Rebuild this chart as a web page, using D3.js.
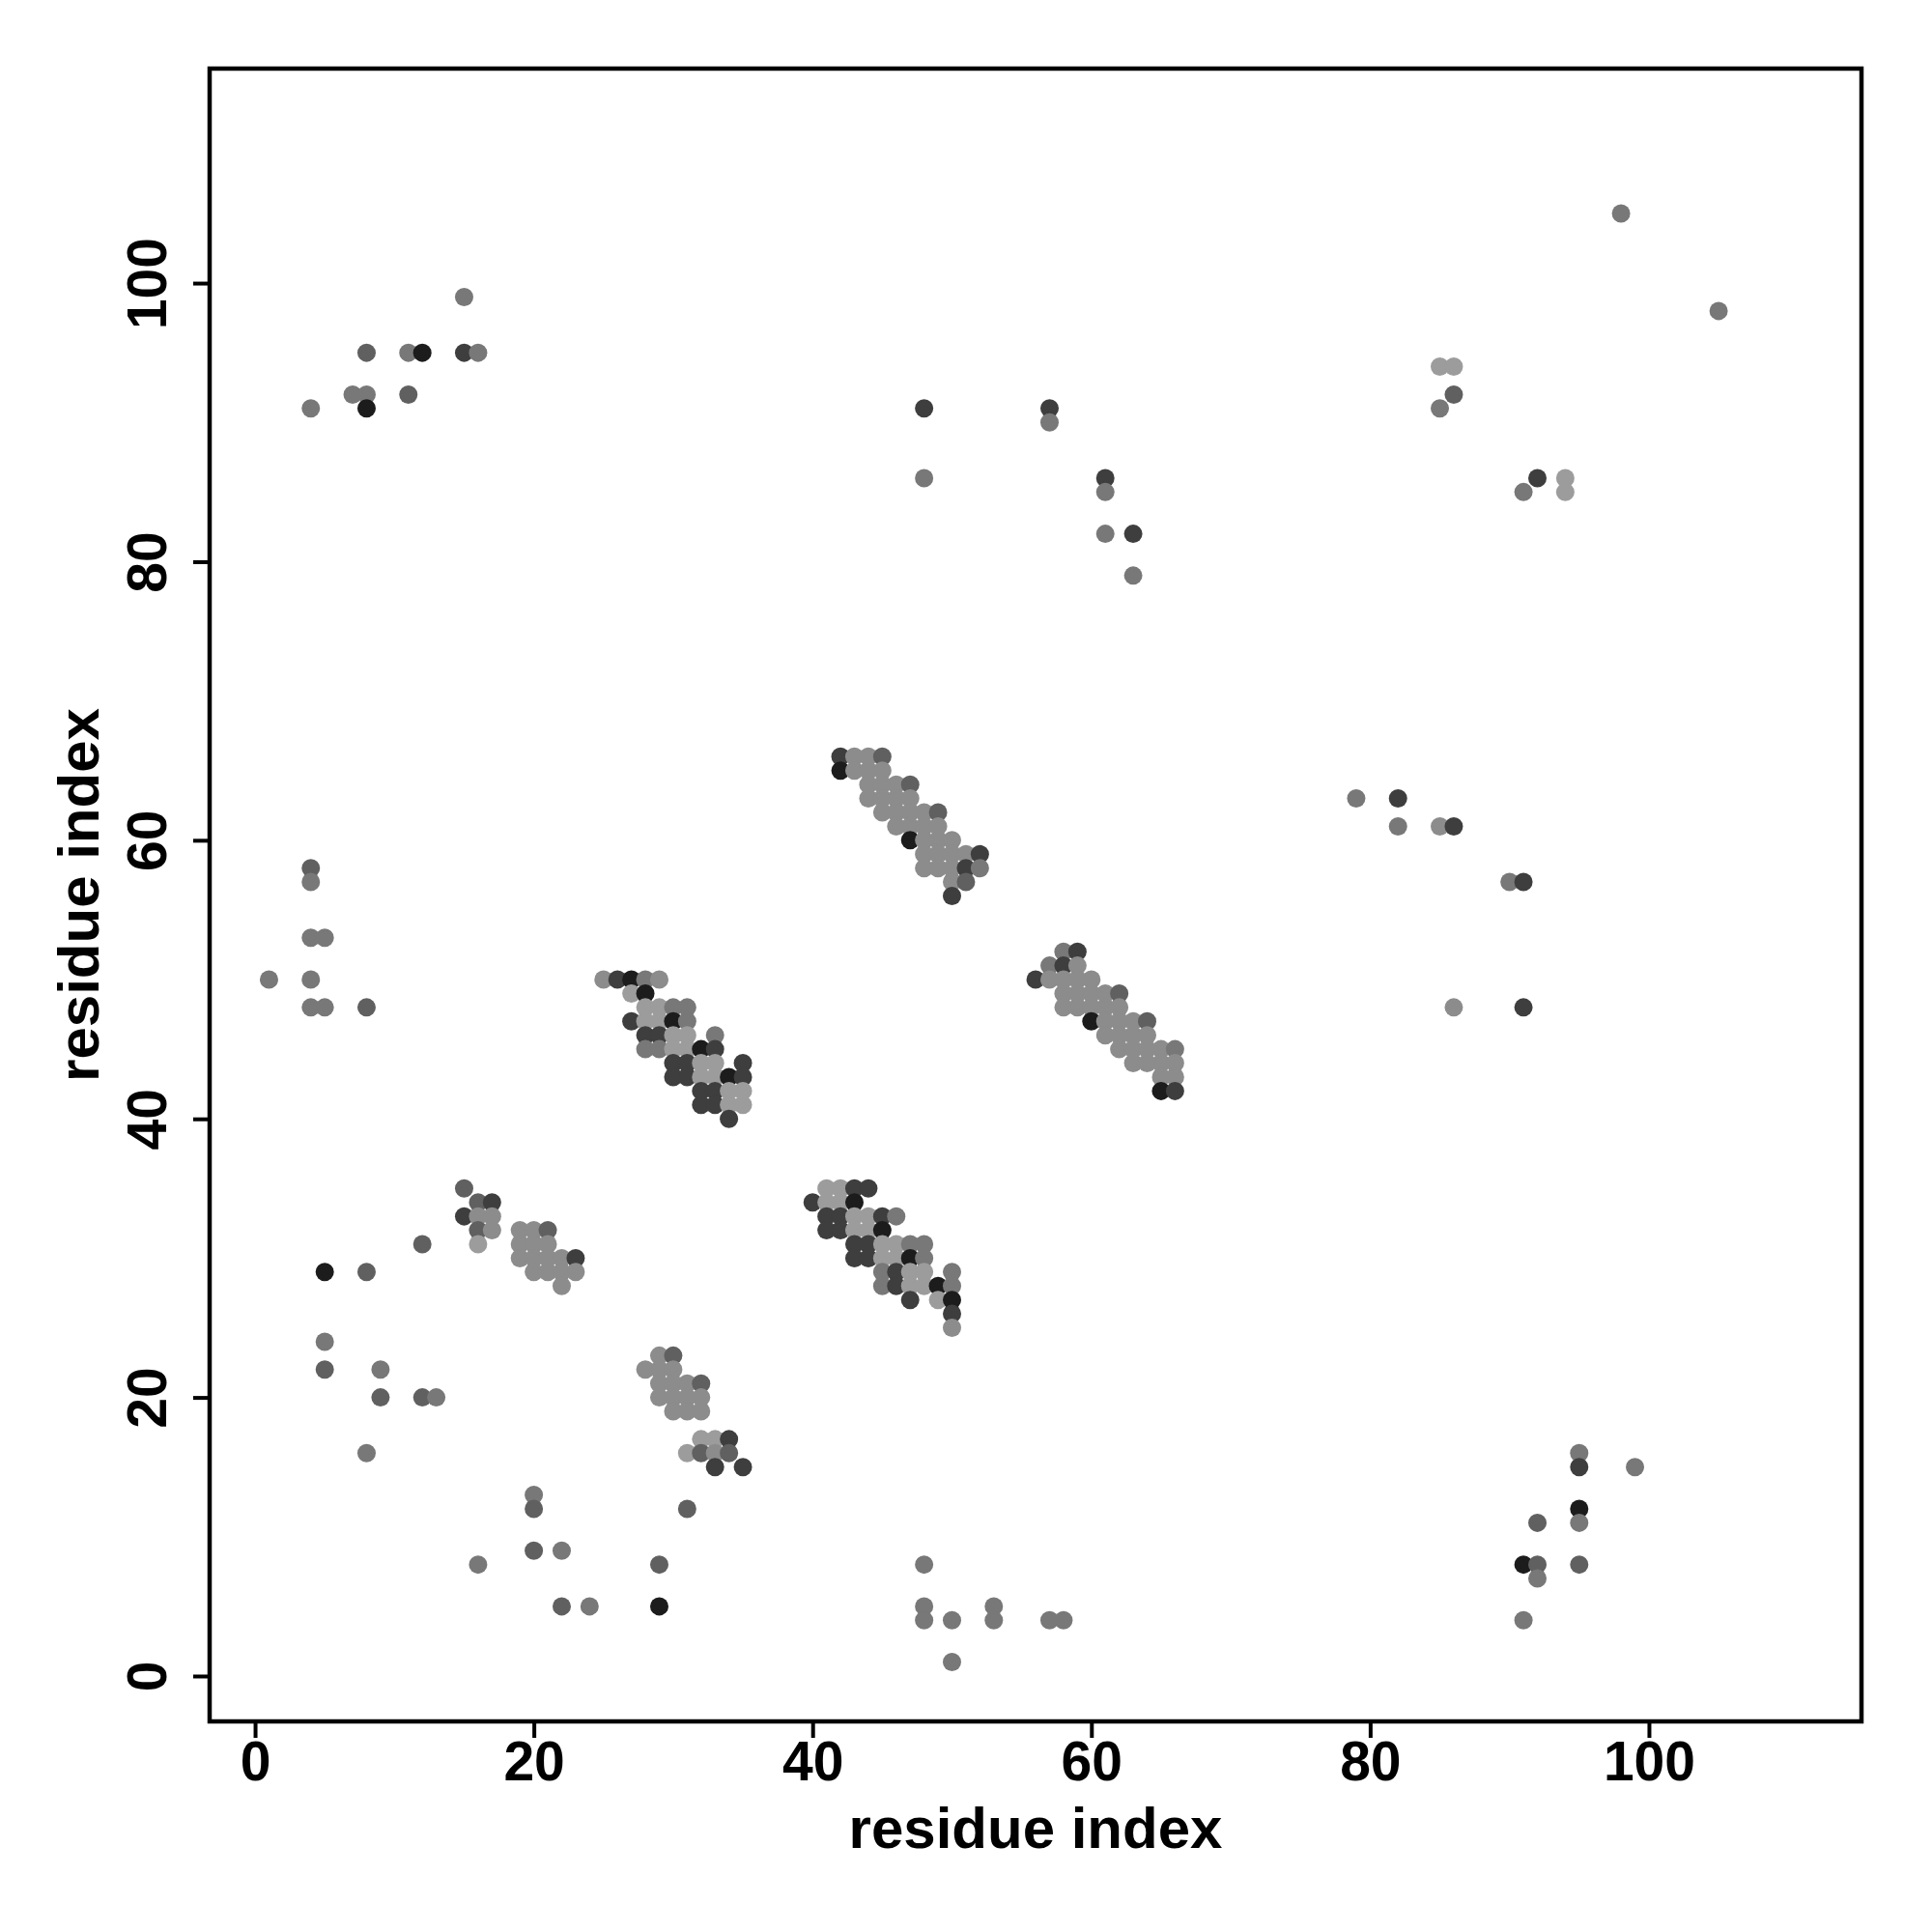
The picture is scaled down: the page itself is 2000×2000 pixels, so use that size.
<!DOCTYPE html>
<html>
<head>
<meta charset="utf-8">
<script src="https://cdn.jsdelivr.net/npm/d3@7"></script>
<style>
  html, body { margin: 0; padding: 0; background: #ffffff; }
  svg { display: block; }
</style>
</head>
<body>
<div id="chart"></div>
<script>
// ---------------- DATA ----------------
const xTicks = [0, 20, 40, 60, 80, 100];
const yTicks = [0, 20, 40, 60, 80, 100];
const xTitle = "residue index";
const yTitle = "residue index";

const shadeNames  = ["black", "dark", "midDark", "mid", "light", "lighter"];
const shadeColors = ["#1c1c1c", "#3e3e3e", "#606060", "#787878", "#8c8c8c", "#9c9c9c"];

const blackPts = [[12,95],[8,91],[42,65],[47,60],[27,50],[28,49],[30,47],[32,45],[34,43],[60,47],[65,42],
  [43,34],[45,32],[47,30],[49,28],[50,27],[5,29],[29,5],[95,12],[91,8]];

const darkPts = [[15,95],[42,66],[52,59],[51,58],[50,56],[26,50],[27,47],[28,46],[29,46],[33,45],[30,44],[31,44],
  [35,44],[30,43],[31,43],[35,43],[32,42],[33,42],[32,41],[33,41],[34,40],[59,52],[58,51],[56,50],[66,42],
  [43,35],[44,35],[40,34],[41,33],[42,33],[45,33],[41,32],[42,32],[43,31],[44,31],[43,30],[44,30],[46,29],
  [46,28],[47,27],[50,26],[17,34],[15,33],[23,30],[34,17],[33,15],[35,15],[48,91],[57,91],[61,86],[63,82],
  [92,86],[82,63],[86,61],[91,57],[91,48],[95,15]];

const midDarkPts = [[8,95],[11,92],[4,58],[8,48],[45,66],[47,64],[49,62],[51,57],[62,49],[64,47],[15,35],[16,34],
  [16,32],[21,32],[30,23],[32,21],[32,16],[34,16],[31,12],[12,31],[8,29],[5,22],[9,20],[12,20],[20,12],[20,9],
  [29,8],[22,5],[86,92],[92,11],[92,8],[95,8]];

const midPts = [[15,99],[11,95],[16,95],[7,92],[8,92],[4,91],[4,57],[4,53],[5,53],[1,50],[4,50],[4,48],[5,48],
  [52,58],[28,50],[30,48],[31,48],[31,47],[28,45],[29,45],[33,46],[58,52],[57,51],[66,45],[46,33],[47,31],
  [48,31],[48,30],[45,29],[50,29],[45,28],[50,28],[5,24],[9,22],[13,20],[8,16],[20,13],[22,9],[16,8],[24,5],
  [57,90],[48,86],[61,85],[61,82],[63,79],[98,105],[105,98],[85,91],[91,85],[79,63],[82,61],[90,57],[95,16],
  [99,15],[95,11],[92,7],[91,4],[48,8],[48,5],[48,4],[50,4],[50,1],[53,5],[53,4],[57,4],[58,4]];

const lightPts = [
  [43,66],[44,66],[43,65],[44,65],[45,65],[44,64],[45,64],[46,64],[44,63],[45,63],[46,63],[47,63],[45,62],
  [46,62],[47,62],[48,62],[46,61],[47,61],[48,61],[49,61],[48,60],[49,60],[50,60],[48,59],[49,59],[50,59],
  [51,59],[48,58],[49,58],[50,58],[50,57],
  [59,51],[57,50],[58,50],[59,50],[60,50],[58,49],[59,49],[60,49],[61,49],[58,48],[59,48],[60,48],[61,48],
  [62,48],[61,47],[62,47],[63,47],[61,46],[62,46],[63,46],[64,46],[62,45],[63,45],[64,45],[65,45],[63,44],
  [64,44],[65,44],[66,44],[65,43],[66,43],
  [16,33],[17,33],[17,32],[19,32],[20,32],[19,31],[20,31],[21,31],[19,30],[20,30],[21,30],[22,30],[20,29],
  [21,29],[22,29],[23,29],[22,28],
  [29,23],[28,22],[29,22],[30,22],[29,21],[30,21],[31,21],[29,20],[30,20],[31,20],[32,20],[30,19],[31,19],
  [32,19],[33,16],
  [85,61],[86,48],[25,50],[29,50],[50,25]];

const lighterPts = [
  [28,48],[29,48],[28,47],[29,47],[30,46],[31,46],[30,45],[31,45],[32,44],[33,44],[32,43],[33,43],[34,42],
  [35,42],[34,41],[35,41],
  [41,35],[42,35],[41,34],[42,34],[43,33],[44,33],[43,32],[44,32],[45,31],[46,31],[45,30],[46,30],[47,29],
  [48,29],[47,28],[48,28],[49,27],
  [27,49],[16,31],[32,17],[33,17],[31,16],[85,94],[86,94],[94,86],[94,85]];

const shadeGroups = [blackPts, darkPts, midDarkPts, midPts, lightPts, lighterPts];

// ---------------- CHART ----------------
const W = 2000, H = 2000;
const box = { left: 217, right: 1927, top: 71, bottom: 1782 };
const fontFam = "'Liberation Sans', Arial, Helvetica, sans-serif";

const svg = d3.select("#chart").append("svg")
  .attr("width", W).attr("height", H)
  .style("background", "#ffffff");

const x = d3.scaleLinear().domain([-3.26, 115.25]).range([box.left, box.right]);
const y = d3.scaleLinear().domain([-3.26, 115.4]).range([box.bottom, box.top]);

// points
const points = [];
shadeGroups.forEach((grp, si) => grp.forEach(p => points.push({ x: p[0], y: p[1], s: si })));
points.sort((a, b) => (b.y - a.y) || (a.x - b.x));

svg.append("g").selectAll("circle")
  .data(points)
  .enter().append("circle")
  .attr("cx", d => x(d.x))
  .attr("cy", d => y(d.y))
  .attr("r", 9.5)
  .attr("fill", d => shadeColors[d.s]);

// box
svg.append("rect")
  .attr("x", box.left).attr("y", box.top)
  .attr("width", box.right - box.left).attr("height", box.bottom - box.top)
  .attr("fill", "none").attr("stroke", "#000").attr("stroke-width", 4.5);

// x axis
const gx = svg.append("g")
  .attr("transform", `translate(0,${box.bottom})`)
  .call(d3.axisBottom(x).tickValues(xTicks).tickSize(17).tickFormat(d3.format("d")));
gx.select(".domain").remove();
gx.selectAll(".tick line").attr("stroke", "#000").attr("stroke-width", 4);
gx.selectAll(".tick text")
  .attr("y", 61).attr("dy", null)
  .attr("fill", "#000")
  .style("font-family", fontFam).style("font-weight", "bold").style("font-size", "57px");

// y axis
const gy = svg.append("g")
  .attr("transform", `translate(${box.left},0)`)
  .call(d3.axisLeft(y).tickValues(yTicks).tickSize(17).tickFormat(d3.format("d")));
gy.select(".domain").remove();
gy.selectAll(".tick line").attr("stroke", "#000").attr("stroke-width", 4);
gy.selectAll(".tick text")
  .attr("x", null).attr("y", null).attr("dy", null)
  .attr("transform", "translate(-45,0) rotate(-90)")
  .attr("text-anchor", "middle")
  .attr("fill", "#000")
  .style("font-family", fontFam).style("font-weight", "bold").style("font-size", "57px");

// titles
svg.append("text")
  .attr("x", (box.left + box.right) / 2).attr("y", 1913)
  .attr("text-anchor", "middle")
  .style("font-family", fontFam).style("font-weight", "bold").style("font-size", "60px")
  .text(xTitle);

svg.append("text")
  .attr("transform", `translate(102,${(box.top + box.bottom) / 2}) rotate(-90)`)
  .attr("text-anchor", "middle")
  .style("font-family", fontFam).style("font-weight", "bold").style("font-size", "60px")
  .text(yTitle);
</script>
</body>
</html>
